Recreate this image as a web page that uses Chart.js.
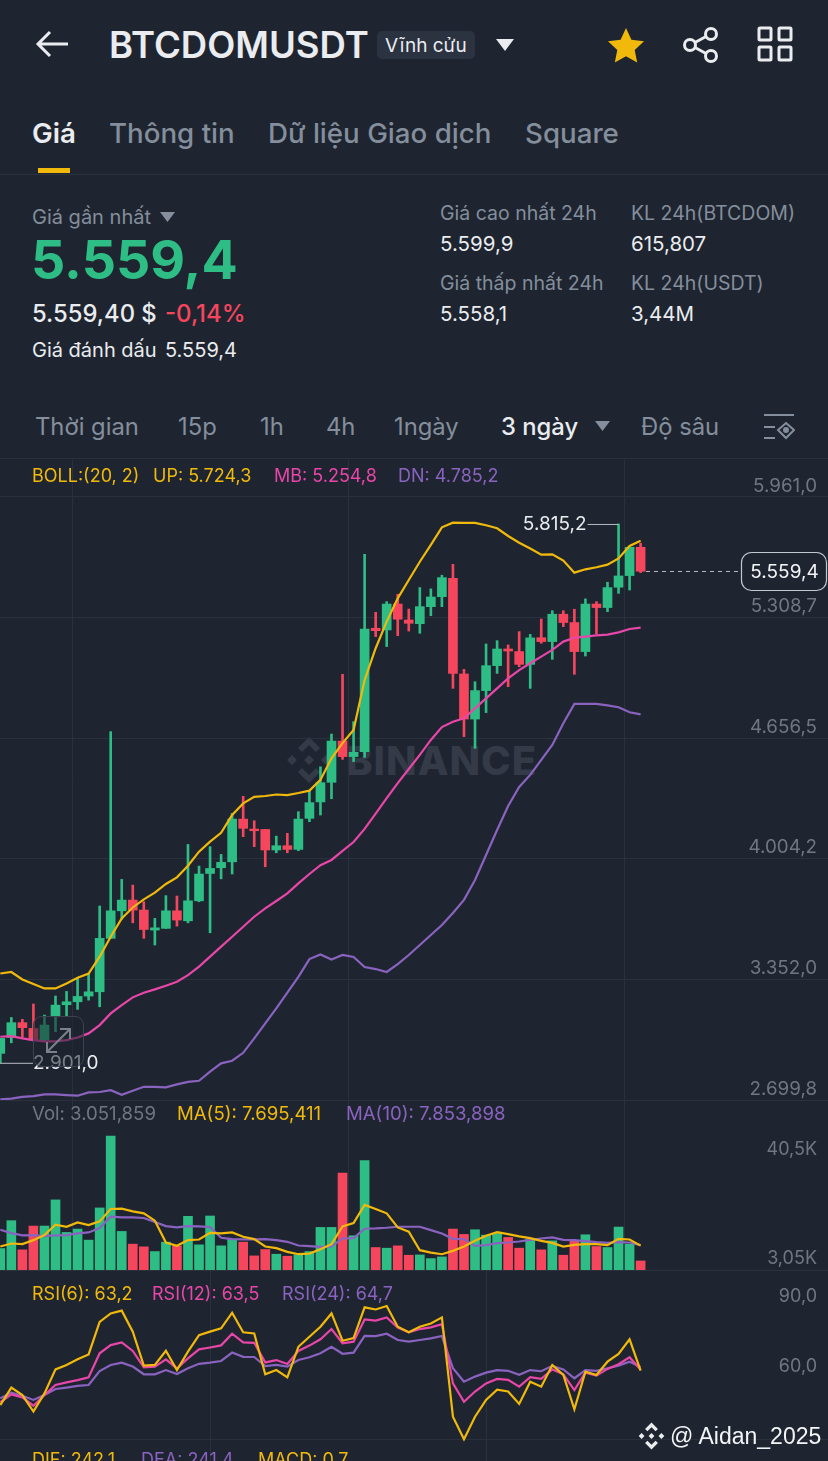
<!DOCTYPE html>
<html lang="vi">
<head>
<meta charset="utf-8">
<title>BTCDOMUSDT</title>
<script src="https://cdn.jsdelivr.net/npm/chart.js@4/dist/chart.umd.min.js"></script>
<style>
  html, body { margin: 0; padding: 0; background: #1e2530; }
  body { position: relative; width: 828px; height: 1461px; overflow: hidden; font-family: Inter, "Noto Sans", sans-serif; }
  canvas { position: absolute; left: 0; }
  .t { position: absolute; white-space: nowrap; line-height: 1; transform: translateY(-50%); font-size: 20px; color: #848e9c; }
  .g { font-size: 19.5px; }
  .w { color: #eaecef; }
  .y { color: #f0b90b; }
  .p { color: #e846a8; }
  .v { color: #8a63c0; }
  .s { font-size: 18px; }
  .m { font-size: 18.6px; }
  .tab { font-size: 27.7px; font-weight: 500; }
  .int { font-size: 23.8px; }
  .ax { color: #6f7783; font-size: 18px; right: 11px; }
  .line { position: absolute; left: 0; width: 828px; height: 1px; background: #2a303c; }
  svg { position: absolute; }
</style>
</head>
<body>
<!-- header -->
<svg style="left:35px;top:30px" width="36" height="28" viewBox="0 0 36 28" fill="none" stroke="#eaecef" stroke-width="3"><path d="M33 14H4M15 2 3 14l12 12"/></svg>
<div class="t w" style="left:109px;top:45px;font-size:36.5px;font-weight:600">BTCDOMUSDT</div>
<div style="position:absolute;left:377px;top:31px;width:98px;height:28px;background:#2b3240;border-radius:5px"></div>
<div class="t w" style="left:385px;top:45px;font-size:19px">Vĩnh cửu</div>
<svg style="left:496px;top:39px" width="18" height="12"><path d="M0 0h18L9 12z" fill="#eaecef"/></svg>
<svg style="left:607px;top:27px" width="38" height="36" viewBox="0 0 38 36"><path d="M19 1l5.400 11.800 12.600 1.500-9.300 8.700 2.500 12.500L19 29.300 7.800 35.500l2.500-12.500L1 14.300l12.600-1.500z" fill="#f0b90b"/></svg>
<svg style="left:682px;top:26px" width="38" height="38" viewBox="0 0 38 38" fill="none" stroke="#eaecef" stroke-width="3"><circle cx="8" cy="19" r="5.500"/><circle cx="29" cy="8" r="5.500"/><circle cx="29" cy="30" r="5.500"/><path d="M13 16.500 24 10.500M13 21.500 24 27.500"/></svg>
<svg style="left:757px;top:26px" width="36" height="36" fill="none" stroke="#eaecef" stroke-width="3"><rect x="2" y="2" width="12" height="12" rx="1"/><rect x="22" y="2" width="12" height="12" rx="1"/><rect x="2" y="21" width="12" height="13" rx="1"/><rect x="22" y="21" width="12" height="13" rx="1"/></svg>

<div class="t w tab" style="left:32px;top:134px;font-weight:600">Giá</div>
<div class="t tab" style="left:109px;top:134px">Thông tin</div>
<div class="t tab" style="left:268px;top:134px">Dữ liệu Giao dịch</div>
<div class="t tab" style="left:525px;top:134px">Square</div>
<div style="position:absolute;left:38px;top:168px;width:32px;height:5px;background:#f0b90b"></div>
<div class="line" style="top:174px"></div>

<!-- price block -->
<div class="t" style="left:32px;top:217px">Giá gần nhất</div>
<svg style="left:160px;top:212px" width="15" height="10"><path d="M0 0h15L7.500 10z" fill="#848e9c"/></svg>
<div class="t" style="left:31px;top:260px;font-size:53.700px;font-weight:700;color:#2ebd85">5.559,4</div>
<div class="t w" style="left:32px;top:314px;font-size:23.800px;font-weight:500">5.559,40 $</div>
<div class="t" style="left:165px;top:314px;font-size:24px;font-weight:500;color:#f6465d">-0,14%</div>
<div class="t w" style="left:32px;top:350px">Giá đánh dấu</div>
<div class="t w" style="left:165px;top:350px">5.559,4</div>

<div class="t g" style="left:440px;top:214px">Giá cao nhất 24h</div>
<div class="t w" style="left:440px;top:244px;font-size:20.500px">5.599,9</div>
<div class="t g" style="left:440px;top:284px">Giá thấp nhất 24h</div>
<div class="t w" style="left:440px;top:314px;font-size:20.500px">5.558,1</div>
<div class="t g" style="left:631px;top:214px">KL 24h(BTCDOM)</div>
<div class="t w" style="left:631px;top:244px;font-size:20.500px">615,807</div>
<div class="t g" style="left:631px;top:284px">KL 24h(USDT)</div>
<div class="t w" style="left:631px;top:314px;font-size:20.500px">3,44M</div>

<!-- intervals -->
<div class="t int" style="left:35px;top:427px">Thời gian</div>
<div class="t int" style="left:178px;top:427px">15p</div>
<div class="t int" style="left:260px;top:427px">1h</div>
<div class="t int" style="left:326px;top:427px">4h</div>
<div class="t int" style="left:394px;top:427px">1ngày</div>
<div class="t w int" style="left:501px;top:427px;font-weight:500">3 ngày</div>
<svg style="left:595px;top:421px" width="15" height="10"><path d="M0 0h15L7.500 10z" fill="#848e9c"/></svg>
<div class="t int" style="left:641px;top:427px">Độ sâu</div>
<svg style="left:763px;top:413px" width="32" height="30" fill="none" stroke="#848e9c" stroke-width="2"><path d="M1 2h30M1 14h11M1 25h11"/><path d="M23 10l8 7-8 8-8-8z"/><circle cx="23" cy="17" r="2" fill="#848e9c"/></svg>
<div class="line" style="top:458px"></div>

<!-- watermark sits under the chart canvas -->
<svg style="left:287px;top:736px" width="44" height="48" viewBox="0 0 44 48" fill="#343a47"><path d="M22 1 33 12l-4 4-7-7-7 7-4-4zM5 19l5 5-5 5-5-5zM22 19l5 5-5 5-5-5zM39 19l5 5-5 5-5-5zM22 47 11 36l4-4 7 7 7-7 4 4z"/></svg>
<div class="t" style="left:346px;top:761px;font-size:40px;font-weight:800;color:#343a47;letter-spacing:1px">BINANCE</div>

<canvas id="chartMain" width="828" height="641" style="top:460px"></canvas>
<canvas id="chartVol" width="828" height="170" style="top:1101px"></canvas>
<canvas id="chartRsi" width="828" height="190" style="top:1271px"></canvas>

<!-- legends -->
<div class="t y s" style="left:32px;top:476px">BOLL:(20, 2)</div>
<div class="t y s" style="left:153px;top:476px">UP: 5.724,3</div>
<div class="t p s" style="left:274px;top:476px">MB: 5.254,8</div>
<div class="t v s" style="left:398px;top:476px">DN: 4.785,2</div>

<div class="t m" style="left:32px;top:1113px;color:#6f7783">Vol: 3.051,859</div>
<div class="t y m" style="left:177px;top:1113px">MA(5): 7.695,411</div>
<div class="t v m" style="left:346px;top:1113px">MA(10): 7.853,898</div>
<div class="t ax" style="top:1149px">40,5K</div>
<div class="t ax" style="top:1258px">3,05K</div>

<div class="t y s" style="left:32px;top:1294px">RSI(6): 63,2</div>
<div class="t p s" style="left:152px;top:1294px">RSI(12): 63,5</div>
<div class="t v s" style="left:282px;top:1294px">RSI(24): 64,7</div>

<div class="t y s" style="left:32px;top:1460px">DIF: 242,1</div>
<div class="t v s" style="left:141px;top:1460px">DEA: 241,4</div>
<div class="t y s" style="left:258px;top:1460px">MACD: 0,7</div>

<!-- expand button over the candles -->
<div style="position:absolute;left:33px;top:1016px;width:49px;height:49px;border:1px solid #3c4350;border-radius:9px;background:rgba(30,37,48,.55)"></div>
<svg style="left:43px;top:1026px" width="30" height="30" fill="none" stroke="#7b828d" stroke-width="2"><path d="M4 26 27 3M17 3h10v10M4 16v10h10"/></svg>

<!-- uploader mark -->
<svg style="left:638px;top:1422px" width="27" height="28" viewBox="0 0 44 48" fill="#eaecef"><path d="M22 1 33 12l-4 4-7-7-7 7-4-4zM5 19l5 5-5 5-5-5zM22 19l5 5-5 5-5-5zM39 19l5 5-5 5-5-5zM22 47 11 36l4-4 7 7 7-7 4 4z"/></svg>
<div class="t" style="left:670px;top:1436px;font-size:23px;color:#f3f4f6;font-family:'Liberation Sans',sans-serif">@ Aidan_2025</div>

<script>
  // 3-day candles
  const candleOpen = [2952,3038,3118,3087,3024,3150,3215,3231,3262,3285,3574,3723,3781,3727,3619,3628,3723,3669,3777,3925,3956,3988,4219,4165,4163,4052,4075,4055,4223,4312,4418,4641,4557,4584,5251,5242,5382,5296,5276,5368,5422,5521,5004,4760,4914,5049,5139,5125,5056,5200,5179,5327,5282,5125,5382,5363,5473,5536,5689];
  const candleHigh = [3033,3146,3136,3219,3159,3262,3287,3357,3384,3749,4692,3893,3862,3772,3682,3805,3803,4082,3965,4070,4028,4250,4342,4210,4163,4127,4142,4259,4373,4502,4679,5002,4746,5651,5337,5395,5435,5355,5471,5464,5538,5597,5029,4962,5166,5184,5161,5233,5218,5301,5346,5346,5354,5410,5395,5500,5815.2,5689,5711];
  const candleLow = [2901,3009,3038,3020,3015,3069,3150,3190,3240,3204,3574,3677,3658,3574,3538,3628,3640,3658,3772,3604,3896,3922,4124,4070,3961,4037,4037,4048,4205,4241,4329,4542,4530,4553,5206,5152,5211,5236,5224,5319,5368,4926,4665,4602,4795,5007,4935,5043,4926,5170,5083,5260,5002,5101,5220,5341,5440,5458,5552];
  const candleClose = [3033,3118,3091,3024,3105,3213,3231,3260,3285,3574,3723,3781,3727,3622,3631,3723,3673,3777,3922,3952,3985,4219,4169,4156,4052,4075,4055,4219,4308,4416,4641,4557,4580,5247,5238,5382,5300,5278,5368,5420,5525,5007,4760,4914,5049,5139,5128,5056,5199,5179,5327,5282,5125,5382,5363,5471,5534,5689,5559.4];

  const bollUp = [3384,3392,3352,3327,3303,3303,3330,3361,3384,3475,3583,3682,3741,3785,3821,3868,3904,3967,4043,4097,4145,4241,4304,4339,4344,4352,4349,4360,4373,4431,4548,4630,4701,4971,5143,5287,5413,5512,5611,5702,5797,5822,5821,5821,5808,5792,5750,5714,5682,5649,5651,5617,5552,5570,5581,5595,5629,5696,5724.3];
  const bollMid = [3042,3045,3033,3024,3017,3017,3024,3038,3060,3105,3168,3213,3255,3280,3298,3318,3339,3375,3421,3475,3529,3583,3637,3691,3736,3776,3817,3871,3922,3970,3998,4047,4095,4166,4249,4333,4414,4490,4566,4647,4717,4746,4764,4818,4872,4926,4980,5025,5062,5098,5134,5179,5200,5206,5213,5217,5229,5247,5254.8];
  const bollDn = [2703,2707,2717,2721,2730,2730,2726,2723,2741,2743,2753,2728,2750,2771,2771,2768,2784,2798,2804,2853,2898,2912,2955,3033,3114,3195,3280,3366,3462,3487,3460,3484,3473,3419,3408,3392,3435,3484,3538,3592,3646,3711,3782,3890,4025,4160,4290,4393,4458,4539,4620,4737,4842,4842,4842,4834,4824,4797,4785.2];

  // volume, in thousands
  const volume = [6.81,15.26,6.41,13.63,13.63,21.56,11.70,12.71,9.36,19.12,40.88,12.0,8.14,7.32,5.90,8.75,7.63,16.58,7.93,16.68,7.63,9.56,8.75,4.58,6.51,5.09,4.47,4.88,5.90,13.22,13.22,29.70,10.68,33.46,7.12,6.92,7.63,4.78,4.88,3.76,4.27,12.71,11.09,12.51,10.88,11.39,10.17,6.92,9.66,6.41,9.15,4.78,9.15,10.98,7.42,7.12,13.32,8.14,3.05];
  const volMa5 = [7.42,8.34,8.14,9.36,10.88,14.03,13.42,14.75,13.93,15.05,18.81,18.92,18.10,17.49,15.26,8.64,7.63,9.36,9.56,11.59,11.39,11.70,10.37,9.66,7.42,6.92,5.80,5.09,5.29,6.61,8.14,13.53,14.54,20.03,18.81,17.49,13.22,11.90,6.31,5.59,5.09,6.10,7.42,9.15,10.68,11.80,11.19,10.48,9.97,9.15,8.54,7.42,7.93,8.14,8.14,7.83,9.76,9.56,7.70];
  const volMa10 = [12.51,11.49,10.78,10.88,10.58,10.78,10.88,11.39,11.70,13.02,16.48,16.27,16.27,16.07,14.85,13.63,13.22,13.63,13.53,13.32,10.07,9.66,9.56,9.56,9.66,9.36,8.85,7.73,7.53,7.32,7.42,9.86,9.97,12.81,12.92,13.12,13.42,13.42,13.42,12.41,11.39,9.76,9.66,7.63,7.83,8.44,8.64,8.95,9.46,9.86,10.17,9.46,9.36,9.05,8.75,8.54,8.75,8.64,7.85];

  const rsi6 = [48.4,55.9,52.7,45.6,53.4,63.7,65.6,68.0,70.1,84.1,87.7,88.9,79.9,65.3,65.6,71.7,63.4,71.3,78.4,79.9,81.3,88.0,79.6,79.1,61.6,63.4,60.3,73.4,77.7,82.0,87.7,76.0,77.1,90.3,89.4,90.9,82.0,79.6,82.0,83.4,86.0,43.4,33.7,43.4,50.6,55.0,54.2,48.9,58.4,56.3,65.6,61.3,46.6,62.7,61.3,67.0,70.3,76.6,63.2];
  const rsi12 = [49.6,53.0,51.7,48.1,52.7,57.0,58.1,59.1,60.3,70.6,74.1,75.3,71.6,64.6,64.9,68.0,64.1,68.4,72.3,73.1,74.0,79.0,75.3,75.1,66.7,67.7,66.0,71.6,73.9,76.6,81.0,74.9,75.6,85.1,84.6,86.0,81.6,79.6,81.0,81.7,83.1,57.7,49.8,54.2,57.7,59.6,59.2,56.3,60.4,59.6,63.7,61.6,54.8,62.3,61.0,63.9,65.9,68.9,63.5];
  const rsi24 = [51.3,53.7,52.4,50.6,52.7,55.3,55.9,56.6,57.0,63.0,65.6,66.6,64.9,61.6,61.6,63.4,61.7,64.2,66.1,66.6,67.3,70.9,69.1,69.0,65.1,65.6,64.9,67.7,68.9,70.6,73.4,70.4,70.9,78.1,78.0,79.0,76.3,75.6,76.3,77.0,78.0,64.2,58.4,60.6,62.3,63.4,63.1,61.4,63.4,62.9,65.2,63.7,59.9,63.4,63.1,64.2,65.3,67.0,64.7];

  // axis ticks
  const priceTicks = [5961.0,5308.7,4656.5,4004.2,3352.0,2699.8];
  const priceTickLabels = ['5.961,0','5.308,7','4.656,5','4.004,2','3.352,0','2.699,8'];
  const rsiTicks = [90,60,33.8];
  const rsiTickLabels = ['90,0','60,0',''];
  const gridCandles = [19,44];   // the two candles the vertical grid lines run through
  const lastPrice = 5559.4;
  const highPrice = 5815.2;
  const lowPrice = 2901.0;

  const GREEN = '#2ebd85', RED = '#f6465d', YELLOW = '#f0b90b', PINK = '#e846a8', PURPLE = '#8a63c0';
  const GRID = '#2a303c';

  const points = arr => arr.map((y, x) => ({ x, y }));
  const candleColor = candleOpen.map((o, i) => candleClose[i] >= o ? GREEN : RED);

  function lineSet(data, color, width) {
    return { type: 'line', data: points(data), borderColor: color, borderWidth: width, pointRadius: 0, tension: 0, order: 1 };
  }

  // shared x axis: one unit is one candle, 11.04px wide
  function xAxis() {
    return {
      type: 'linear', min: -0.027, max: 74.973, offset: false,
      border: { display: false },
      grid: { color: GRID, lineWidth: 1, drawTicks: false },
      ticks: { display: false },
      afterBuildTicks: s => { s.ticks = gridCandles.map(value => ({ value })); }
    };
  }

  // y axis with the labels inside the plot, lifted above their grid line
  function yAxis(min, max, values, labels, fontSize) {
    return {
      position: 'right', min, max,
      border: { display: false },
      grid: { color: GRID, lineWidth: 1, drawTicks: false },
      ticks: {
        mirror: true, padding: -11, labelOffset: -11, autoSkip: false,
        color: '#6f7783', font: { family: 'Inter', size: fontSize },
        callback: (v, i) => labels[i]
      },
      afterBuildTicks: s => { s.ticks = values.map(value => ({ value })); },
      afterFit: s => { s.paddingTop = 0; s.paddingBottom = 0; s.width = 0; }
    };
  }

  function baseOptions(scales) {
    return {
      responsive: false, animation: false, events: [],
      layout: { padding: 0 },
      plugins: { legend: { display: false }, tooltip: { enabled: false } },
      scales
    };
  }

  // high / low / last price marks, placed through the scales
  const priceMarks = {
    id: 'priceMarks',
    afterDatasetsDraw(chart) {
      const { ctx, scales: { x, y } } = chart;
      ctx.save();
      ctx.font = '19px Inter';
      ctx.textBaseline = 'middle';

      const hx = x.getPixelForValue(candleHigh.indexOf(highPrice));
      const hy = y.getPixelForValue(highPrice);
      ctx.strokeStyle = '#b7bcc4';
      ctx.lineWidth = 1;
      ctx.beginPath(); ctx.moveTo(hx, hy + .5); ctx.lineTo(hx - 31, hy + .5); ctx.stroke();
      ctx.fillStyle = '#eaecef';
      ctx.textAlign = 'right';
      ctx.fillText('5.815,2', hx - 32, hy);

      const ly = y.getPixelForValue(lowPrice);
      ctx.beginPath(); ctx.moveTo(0, ly + .5); ctx.lineTo(33, ly + .5); ctx.stroke();
      ctx.textAlign = 'left';
      ctx.fillText('2.901,0', 33, ly);

      const py = Math.round(y.getPixelForValue(lastPrice)) + .5;
      ctx.setLineDash([4, 4]);
      ctx.beginPath(); ctx.moveTo(646, py); ctx.lineTo(741, py); ctx.stroke();
      ctx.setLineDash([]);
      ctx.beginPath();
      ctx.roundRect(741.5, py - 19, 85, 38, 10);
      ctx.fillStyle = '#1e2530';
      ctx.fill();
      ctx.strokeStyle = '#c4c8ce';
      ctx.lineWidth = 1.2;
      ctx.stroke();
      ctx.fillStyle = '#f3f4f6';
      ctx.textAlign = 'center';
      ctx.fillText('5.559,4', 784.5, py + 1);
      ctx.restore();
    }
  };

  new Chart(document.getElementById('chartMain'), {
    type: 'bar',
    data: {
      datasets: [
        lineSet(bollUp, YELLOW, 2.2),
        lineSet(bollMid, PINK, 2.2),
        lineSet(bollDn, PURPLE, 2.2),
        { data: candleOpen.map((o, i) => ({ x: i, y: [o, candleClose[i]] })), backgroundColor: candleColor, barThickness: 9, grouped: false, order: 2 },
        { data: candleLow.map((l, i) => ({ x: i, y: [l, candleHigh[i]] })), backgroundColor: candleColor, barThickness: 2, grouped: false, order: 3 }
      ]
    },
    options: baseOptions({ x: xAxis(), y: yAxis(2694.4, 6161.1, priceTicks, priceTickLabels, 18.8) }),
    plugins: [priceMarks]
  });

  new Chart(document.getElementById('chartVol'), {
    type: 'bar',
    data: {
      datasets: [
        lineSet(volMa5, YELLOW, 2.2),
        lineSet(volMa10, PURPLE, 2.2),
        { data: points(volume), backgroundColor: candleColor, barThickness: 9, order: 2 }
      ]
    },
    options: baseOptions({ x: xAxis(), y: yAxis(0, 51.55, [0], [''], 18) })
  });

  new Chart(document.getElementById('chartRsi'), {
    type: 'line',
    data: {
      datasets: [
        lineSet(rsi6, YELLOW, 2.2),
        lineSet(rsi12, PINK, 2.2),
        lineSet(rsi24, PURPLE, 2.2)
      ]
    },
    options: (() => {
      const o = baseOptions({ x: xAxis(), y: yAxis(24.4, 105.9, rsiTicks, rsiTickLabels, 18) });
      o.scales.y.grid.color = ctx => ctx.tick && ctx.tick.value === 33.8 ? GRID : 'transparent';
      return o;
    })()
  });
</script>
<div class="line" style="top:1100px"></div>
<div class="line" style="top:1270px"></div>
</body>
</html>
